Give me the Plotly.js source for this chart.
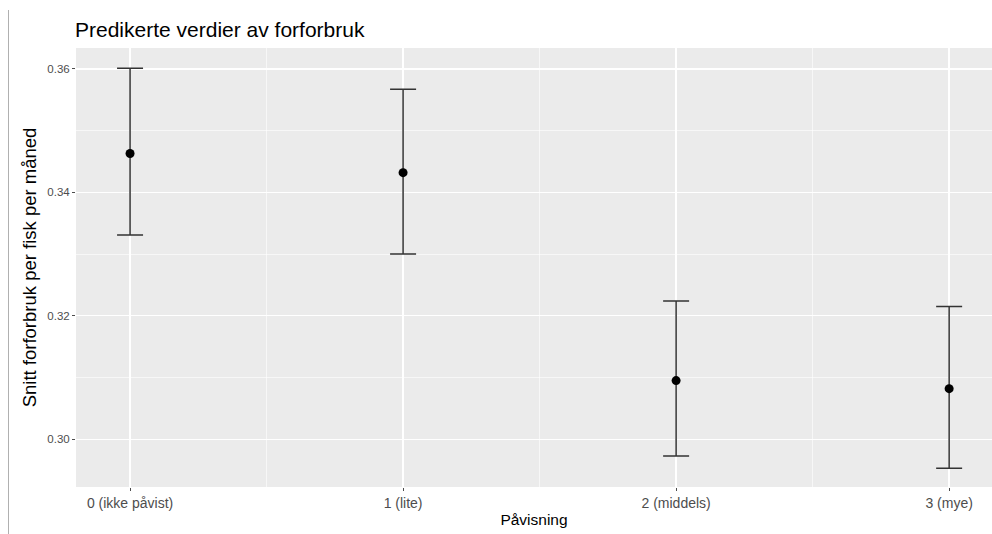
<!DOCTYPE html>
<html>
<head>
<meta charset="utf-8">
<script src="https://cdn.plot.ly/plotly-3.0.1.min.js"></script>
<style>html,body{margin:0;padding:0;background:#fff;}#chart{width:992px;height:534px;}</style>
</head>
<body>
<div id="chart"></div>
<script>
const categories = ["0 (ikke påvist)", "1 (lite)", "2 (middels)", "3 (mye)"];
const predicted = [0.3463, 0.3432, 0.3095, 0.3082];
const upper = [0.3601, 0.3567, 0.3224, 0.3215];
const lower = [0.3331, 0.3300, 0.2973, 0.2953];
const yTicks = [0.30, 0.32, 0.34, 0.36];
const yTickLabels = ["0.30", "0.32", "0.34", "0.36"];

const xPos = categories.map((c, i) => i);

const trace = {
  type: 'scatter',
  mode: 'markers',
  x: xPos,
  y: predicted,
  text: categories,
  marker: {color: '#000000', size: 9},
  error_y: {
    type: 'data',
    symmetric: false,
    array: upper.map((u, i) => u - predicted[i]),
    arrayminus: lower.map((l, i) => predicted[i] - l),
    color: '#333333',
    thickness: 1.5,
    width: 13
  },
  hoverinfo: 'text+y'
};

const fontFam = '"Liberation Sans", Arial, sans-serif';

const layout = {
  width: 992, height: 534,
  margin: {l: 76, r: 0, t: 48, b: 47},
  paper_bgcolor: '#ffffff',
  plot_bgcolor: '#EBEBEB',
  showlegend: false,
  font: {family: fontFam, color: '#4d4d4d'},
  title: {
    text: 'Predikerte verdier av forforbruk',
    x: 75/992, xanchor: 'left', xref: 'container',
    y: 1 - 30/534, yanchor: 'middle', yref: 'container',
    font: {family: fontFam, size: 21, color: '#000000'}
  },
  xaxis: {
    range: [-0.198, 3.157],
    tickmode: 'array',
    tickvals: xPos,
    ticktext: categories,
    showgrid: true, gridcolor: '#ffffff', gridwidth: 1.3,
    minor: {tickmode: 'array', tickvals: [0.5, 1.5, 2.5], showgrid: true, gridcolor: '#ffffff', gridwidth: 0.6, ticks: ''},
    zeroline: false, showline: false,
    ticks: 'outside', ticklen: 3, tickcolor: '#4d4d4d', tickwidth: 1,
    tickfont: {family: fontFam, size: 14, color: '#4d4d4d'},
    title: {text: 'Påvisning', standoff: 4, font: {family: fontFam, size: 15.5, color: '#000000'}},
    fixedrange: true
  },
  yaxis: {
    range: [0.29226, 0.3634],
    tickmode: 'array',
    tickvals: yTicks,
    ticktext: yTickLabels,
    showgrid: true, gridcolor: '#ffffff', gridwidth: 1.3,
    minor: {tickmode: 'array', tickvals: [0.31, 0.33, 0.35], showgrid: true, gridcolor: '#ffffff', gridwidth: 0.6, ticks: ''},
    zeroline: false, showline: false,
    ticks: 'outside', ticklen: 3, tickcolor: '#4d4d4d', tickwidth: 1,
    tickfont: {family: fontFam, size: 11.5, color: '#4d4d4d'},
    title: {text: 'Snitt forforbruk per fisk per måned', standoff: 5, font: {family: fontFam, size: 18.5, color: '#000000'}},
    fixedrange: true
  },
  shapes: [{
    type: 'line', xref: 'paper', yref: 'paper',
    x0: (8.5 - 76)/916, x1: (8.5 - 76)/916,
    y0: -47/439, y1: 1 + 38/439,
    line: {color: '#b0b0b0', width: 1}
  }]
};

Plotly.newPlot('chart', [trace], layout, {displayModeBar: false, staticPlot: true});
</script>
</body>
</html>
